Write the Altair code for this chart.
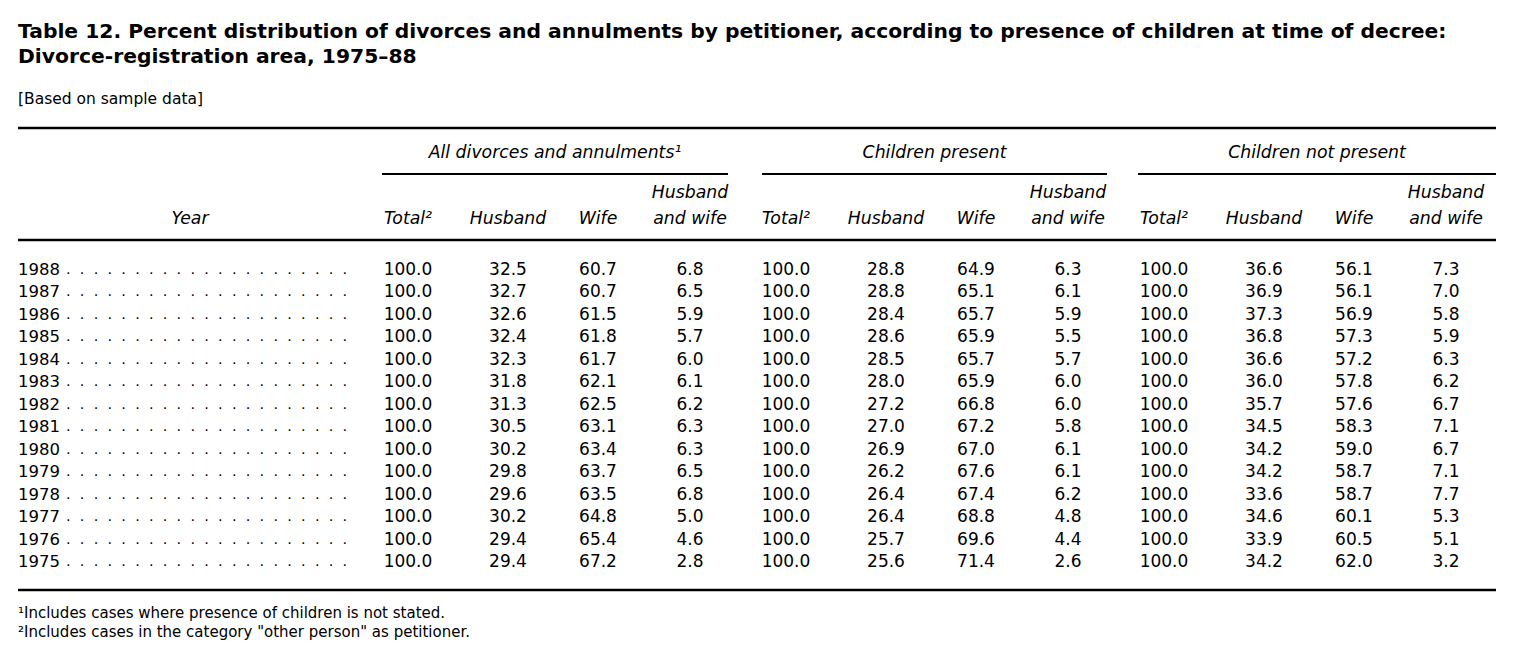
import altair as alt
import pandas as pd

# ---------------- data ----------------
years = [1988, 1987, 1986, 1985, 1984, 1983, 1982, 1981, 1980, 1979, 1978, 1977, 1976, 1975]

all_total = [100.0] * 14
all_husband = [32.5, 32.7, 32.6, 32.4, 32.3, 31.8, 31.3, 30.5, 30.2, 29.8, 29.6, 30.2, 29.4, 29.4]
all_wife = [60.7, 60.7, 61.5, 61.8, 61.7, 62.1, 62.5, 63.1, 63.4, 63.7, 63.5, 64.8, 65.4, 67.2]
all_hw = [6.8, 6.5, 5.9, 5.7, 6.0, 6.1, 6.2, 6.3, 6.3, 6.5, 6.8, 5.0, 4.6, 2.8]

cp_total = [100.0] * 14
cp_husband = [28.8, 28.8, 28.4, 28.6, 28.5, 28.0, 27.2, 27.0, 26.9, 26.2, 26.4, 26.4, 25.7, 25.6]
cp_wife = [64.9, 65.1, 65.7, 65.9, 65.7, 65.9, 66.8, 67.2, 67.0, 67.6, 67.4, 68.8, 69.6, 71.4]
cp_hw = [6.3, 6.1, 5.9, 5.5, 5.7, 6.0, 6.0, 5.8, 6.1, 6.1, 6.2, 4.8, 4.4, 2.6]

cnp_total = [100.0] * 14
cnp_husband = [36.6, 36.9, 37.3, 36.8, 36.6, 36.0, 35.7, 34.5, 34.2, 34.2, 33.6, 34.6, 33.9, 34.2]
cnp_wife = [56.1, 56.1, 56.9, 57.3, 57.2, 57.8, 57.6, 58.3, 59.0, 58.7, 58.7, 60.1, 60.5, 62.0]
cnp_hw = [7.3, 7.0, 5.8, 5.9, 6.3, 6.2, 6.7, 7.1, 6.7, 7.1, 7.7, 5.3, 5.1, 3.2]

groups = ["All divorces and annulments\u00b9", "Children present", "Children not present"]
columns = ["Total\u00b2", "Husband", "Wife", "and wife"]

title_lines = [
    "Table 12. Percent distribution of divorces and annulments by petitioner, according to presence of children at time of decree:",
    "Divorce-registration area, 1975\u201388",
]
subtitle = "[Based on sample data]"
footnotes = [
    "\u00b9Includes cases where presence of children is not stated.",
    "\u00b2Includes cases in the category \"other person\" as petitioner.",
]

series = {
    (0, 0): all_total, (0, 1): all_husband, (0, 2): all_wife, (0, 3): all_hw,
    (1, 0): cp_total, (1, 1): cp_husband, (1, 2): cp_wife, (1, 3): cp_hw,
    (2, 0): cnp_total, (2, 1): cnp_husband, (2, 2): cnp_wife, (2, 3): cnp_hw,
}

# ---------------- layout (reference pixel coords) ----------------
W, H = 1514, 654
M = 8
FONT = "DejaVu Sans"
LEFT = 18
RIGHT = 1496
GROUP_BASE = [385, 763, 1141]
COL_CENTER_OFF = [23, 123, 213, 305]      # column centres within a group
GROUP_LINE = [(382, 728), (762, 1107), (1138, RIGHT)]
ROW_TOP, ROW_BOTTOM = 270, 562

xs = alt.Scale(domain=[M, W - M], range=[0, W - 2 * M], nice=False, zero=False)
ys = alt.Scale(domain=[M, H - M], nice=False, zero=False, reverse=True)
row_scale = alt.Scale(type="point", domain=years, range=[ROW_TOP - M, ROW_BOTTOM - M], padding=0)

cells = []
for (g, c), vals in series.items():
    for yr, v in zip(years, vals):
        cells.append({"year": yr, "px": GROUP_BASE[g] + COL_CENTER_OFF[c], "value": v})
cells_df = pd.DataFrame(cells)

num_size = 17
hdr_size = 17.3

cell_layer = alt.Chart(cells_df).mark_text(
    align="center", baseline="middle", font=FONT, fontSize=num_size, color="black"
).encode(
    x=alt.X("px:Q", scale=xs, axis=None),
    y=alt.Y("year:O", scale=row_scale, axis=None),
    text=alt.Text("value:Q", format=".1f"),
)

year_df = pd.DataFrame({"year": years, "px": [LEFT] * len(years),
                        "label": [str(y) for y in years]})
year_layer = alt.Chart(year_df).mark_text(
    align="left", baseline="middle", font=FONT, fontSize=16.5, color="black"
).encode(
    x=alt.X("px:Q", scale=xs, axis=None),
    y=alt.Y("year:O", scale=row_scale, axis=None),
    text="label:N",
)
LEADER = ".\u00a0\u00a0" * 20 + "."
dots_df = pd.DataFrame({"year": years, "px": [66] * len(years),
                        "label": [LEADER] * len(years)})
dots_layer = alt.Chart(dots_df).mark_text(
    align="left", baseline="middle", font=FONT, fontSize=14.5, color="black"
).encode(
    x=alt.X("px:Q", scale=xs, axis=None),
    y=alt.Y("year:O", scale=row_scale, axis=None),
    text="label:N",
)


def text_layer(rows, align="left", size=16, weight="normal", style="normal"):
    df = pd.DataFrame(rows, columns=["label", "px", "py"])
    return alt.Chart(df).mark_text(
        align=align, baseline="middle", font=FONT, fontSize=size,
        fontWeight=weight, fontStyle=style, color="black"
    ).encode(
        x=alt.X("px:Q", scale=xs, axis=None),
        y=alt.Y("py:Q", scale=ys, axis=None),
        text="label:N",
    )


title_layer = text_layer(
    [(title_lines[0], LEFT, 32), (title_lines[1], LEFT, 57)], size=20.3, weight="bold"
)
sub_layer = text_layer([(subtitle, LEFT, 99)], size=15.5)
foot_layer = text_layer([(footnotes[0], LEFT, 613), (footnotes[1], LEFT, 632)], size=15)

group_rows = [(groups[i], (GROUP_LINE[i][0] + GROUP_LINE[i][1]) / 2, 153) for i in range(3)]
group_layer = text_layer(group_rows, align="center", size=hdr_size, style="italic")

center_rows = [("Year", 190, 219)]
for g in range(3):
    for c in range(4):
        center_rows.append((columns[c], GROUP_BASE[g] + COL_CENTER_OFF[c], 219))
    center_rows.append(("Husband", GROUP_BASE[g] + COL_CENTER_OFF[3], 193))
center_hdr = text_layer(center_rows, align="center", size=hdr_size, style="italic")

rules = [
    (LEFT, RIGHT, 128, 2.5),
    (GROUP_LINE[0][0], GROUP_LINE[0][1], 174, 2),
    (GROUP_LINE[1][0], GROUP_LINE[1][1], 174, 2),
    (GROUP_LINE[2][0], GROUP_LINE[2][1], 174, 2),
    (LEFT, RIGHT, 240, 2.5),
    (LEFT, RIGHT, 590, 2.5),
]
rules_df = pd.DataFrame(rules, columns=["x1", "x2", "py", "w"])
rule_layer = alt.Chart(rules_df).mark_rule(color="black").encode(
    x=alt.X("x1:Q", scale=xs, axis=None),
    x2="x2:Q",
    y=alt.Y("py:Q", scale=ys, axis=None),
    strokeWidth=alt.StrokeWidth("w:Q", scale=None, legend=None),
)

chart = alt.layer(
    rule_layer, title_layer, sub_layer, foot_layer, group_layer, center_hdr,
    cell_layer, year_layer, dots_layer,
).resolve_scale(y="independent").properties(
    width=W - 2 * M, height=H - 2 * M,
    autosize=alt.AutoSizeParams(type="none"), padding=0,
    background="white",
).configure_view(stroke=None)

chart.save("out.html", embed_options={"renderer": "svg", "actions": False})
